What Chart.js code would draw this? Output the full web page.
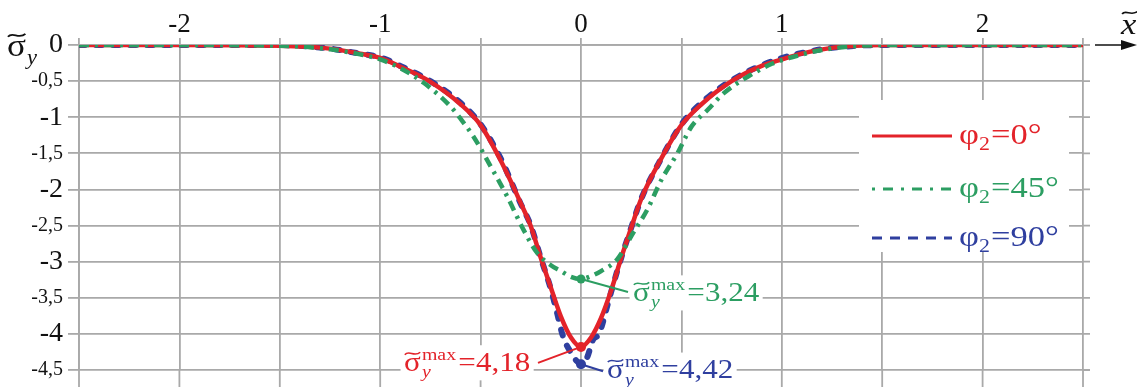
<!DOCTYPE html>
<html>
<head>
<meta charset="utf-8">
<script src="https://cdn.jsdelivr.net/npm/chart.js@4/dist/chart.umd.min.js"></script>
<style>
  html, body { margin: 0; padding: 0; background: #fff; }
</style>
</head>
<body>
<canvas id="chart" width="1137" height="387"></canvas>
<script>
// values
const xRed = [-2.5, -2, -1.5, -1.25, -1.1, -1, -0.9, -0.75, -0.6, -0.5, -0.4, -0.3, -0.25, -0.2, -0.15, -0.1, -0.05, 0,
              0.05, 0.1, 0.15, 0.2, 0.25, 0.3, 0.4, 0.5, 0.6, 0.75, 0.9, 1, 1.1, 1.25, 1.5, 2, 2.5];
const yRed = [0, 0, -0.01, -0.05, -0.12, -0.18, -0.3, -0.51, -0.82, -1.11, -1.6, -2.19, -2.51, -2.95, -3.36, -3.76, -4.05, -4.18,
              -4.05, -3.78, -3.4, -2.95, -2.53, -2.13, -1.57, -1.11, -0.82, -0.5, -0.29, -0.2, -0.12, -0.04, 0, 0, 0];

const xGreen = [-2.5, -2, -1.5, -1.25, -1.1, -1, -0.9, -0.78, -0.65, -0.6, -0.535, -0.45, -0.367, -0.286, -0.218, -0.15, -0.1, -0.05, 0,
                0.05, 0.1, 0.18, 0.26, 0.33, 0.4, 0.48, 0.55, 0.63, 0.71, 0.83, 0.95, 1.05, 1.2, 1.5, 2, 2.5];
const yGreen = [0, 0, -0.01, -0.06, -0.13, -0.2, -0.32, -0.53, -0.85, -1.02, -1.27, -1.68, -2.1, -2.56, -2.88, -3.05, -3.13, -3.21, -3.24,
                -3.2, -3.13, -2.97, -2.6, -2.28, -1.87, -1.5, -1.13, -0.9, -0.67, -0.44, -0.26, -0.17, -0.07, 0, 0, 0];

const xBlue = [-2.5, -2, -1.5, -1.25, -1.1, -1, -0.9, -0.75, -0.6, -0.5, -0.4, -0.3, -0.25, -0.2, -0.15, -0.12, -0.09, -0.05, -0.02, 0,
               0.03, 0.06, 0.09, 0.13, 0.15, 0.2, 0.25, 0.3, 0.4, 0.5, 0.6, 0.75, 0.9, 1, 1.1, 1.25, 1.5, 2, 2.5];
const yBlue = [0, 0, 0, -0.05, -0.12, -0.17, -0.29, -0.5, -0.8, -1.1, -1.57, -2.2, -2.5, -2.95, -3.38, -3.7, -4.03, -4.26, -4.38, -4.42,
               -4.33, -4.08, -4.0, -3.62, -3.42, -2.95, -2.53, -2.13, -1.57, -1.1, -0.8, -0.49, -0.28, -0.18, -0.11, -0.04, 0, 0, 0];

const seriesNames = ['0°', '45°', '90°'];
const peakX = [0, 0, 0];
const peakY = [-4.18, -3.24, -4.42];
const peakText = ['4,18', '3,24', '4,42'];

const RED = '#e3232a', GREEN = '#2c9e62', BLUE = '#2f3f9f';
const gridCol = '#a9a9a9';
const FONT = '"Liberation Serif", "Times New Roman", serif';
const SX = 1.15; // text in the picture is a bit wide

function serif(size, italic) {
  return (italic ? 'italic ' : '') + size + 'px ' + FONT;
}

function pts(xs, ys) {
  return xs.map((x, i) => ({ x: x, y: ys[i] }));
}

// sigma with tilde, subscript y and optional "max"; origin at baseline
function sigmaWidth(ctx, size, sup) {
  ctx.font = serif(size);
  const w = ctx.measureText('σ').width;
  ctx.font = serif(size * 0.64, true);
  let e = w + 1 + ctx.measureText('y').width;
  if (sup) {
    ctx.font = serif(size * 0.64);
    e = Math.max(e, w + 1 + ctx.measureText('max').width);
  }
  return e;
}
function drawSigma(ctx, size, sup) {
  ctx.font = serif(size);
  ctx.fillText('σ', 0, 0);
  const w = ctx.measureText('σ').width;
  const ty = -size * 0.64;
  ctx.lineWidth = Math.max(1.3, size * 0.055);
  ctx.beginPath();
  ctx.moveTo(w * 0.05, ty + size * 0.04);
  ctx.bezierCurveTo(w * 0.3, ty - size * 0.14, w * 0.62, ty + size * 0.14, w * 0.97, ty - size * 0.05);
  ctx.stroke();
  ctx.font = serif(size * 0.64, true);
  ctx.fillText('y', w + 1, size * 0.24);
  if (sup) {
    ctx.font = serif(size * 0.64);
    ctx.fillText('max', w + 1, -size * 0.42);
  }
  return sigmaWidth(ctx, size, sup);
}

const extras = {
  id: 'extras',
  beforeDatasetsDraw(chart) {
    const ctx = chart.ctx, a = chart.chartArea;
    const xs = chart.scales.x, ys = chart.scales.y;
    ctx.save();
    ctx.strokeStyle = gridCol;
    ctx.lineWidth = 1.8;
    ctx.beginPath();
    ys.ticks.forEach(t => {
      const py = ys.getPixelForValue(t.value);
      ctx.moveTo(a.right, py); ctx.lineTo(a.right + 7, py);
    });
    xs.ticks.forEach(t => {
      const px = xs.getPixelForValue(t.value);
      ctx.moveTo(px, a.bottom); ctx.lineTo(px, chart.height);
    });
    ctx.stroke();
    ctx.restore();
  },
  afterDatasetsDraw(chart) {
    const ctx = chart.ctx, a = chart.chartArea;
    const xs = chart.scales.x, ys = chart.scales.y;
    ctx.save();
    ctx.textBaseline = 'alphabetic';
    ctx.textAlign = 'left';

    // arrow of the x axis
    ctx.strokeStyle = '#111';
    ctx.fillStyle = '#111';
    ctx.lineWidth = 1.5;
    ctx.beginPath();
    ctx.moveTo(a.right + 12, a.top); ctx.lineTo(a.right + 42, a.top);
    ctx.stroke();
    ctx.beginPath();
    ctx.moveTo(a.right + 54, a.top);
    ctx.lineTo(a.right + 38, a.top - 5);
    ctx.lineTo(a.right + 38, a.top + 5);
    ctx.closePath();
    ctx.fill();

    // x~ label
    ctx.save();
    ctx.translate(1121, 34);
    ctx.scale(SX, 1);
    ctx.font = serif(30, true);
    ctx.fillText('x', 0, 0);
    ctx.lineWidth = 1.6;
    ctx.beginPath();
    ctx.moveTo(1, -20);
    ctx.bezierCurveTo(4, -25, 9, -17, 15, -23);
    ctx.stroke();
    ctx.restore();

    // sigma~y axis title
    ctx.save();
    ctx.translate(7, 56);
    ctx.scale(1.1, 1);
    drawSigma(ctx, 32, false);
    ctx.restore();

    // legend
    const legend = [
      { c: RED, dash: [], y: 136 },
      { c: GREEN, dash: [3, 8, 10, 8], y: 189 },
      { c: BLUE, dash: [10, 8], y: 238 }
    ];
    ctx.fillStyle = '#fff';
    ctx.fillRect(859, 100, 210, 152);
    legend.forEach((it, i) => {
      ctx.strokeStyle = it.c;
      ctx.lineWidth = 3;
      ctx.setLineDash(it.dash);
      ctx.beginPath();
      ctx.moveTo(872, it.y); ctx.lineTo(952, it.y);
      ctx.stroke();
      ctx.setLineDash([]);
      ctx.save();
      ctx.translate(959, it.y + 8);
      ctx.scale(SX, 1);
      ctx.fillStyle = it.c;
      ctx.font = serif(30);
      ctx.fillText('φ', 0, 0);
      let w = ctx.measureText('φ').width;
      ctx.font = serif(19);
      ctx.fillText('2', w, 6);
      w += ctx.measureText('2').width + 1;
      ctx.font = serif(30);
      ctx.fillText('=' + seriesNames[i], w, 0);
      ctx.restore();
    });

    // peak labels
    const cols = [RED, GREEN, BLUE];
    const place = [
      { tx: -177, ty: 24, lx: -43, ly: 16, r: 5 },
      { tx: 52, ty: 22, lx: 47, ly: 13, r: 4.5 },
      { tx: 26, ty: 14, lx: 22, ly: 7, r: 5 }
    ];
    peakY.forEach((v, i) => {
      const px = xs.getPixelForValue(peakX[i]);
      const py = ys.getPixelForValue(v);
      const p = place[i];
      const size = 27;
      const sw = sigmaWidth(ctx, size, true);
      ctx.font = serif(size);
      const txt = '=' + peakText[i];
      const tw = sw + 2 + ctx.measureText(txt).width;
      ctx.save();
      ctx.translate(px + p.tx, py + p.ty);
      ctx.scale(SX, 1);
      ctx.fillStyle = '#fff';
      ctx.fillRect(-3, -size * 0.95, tw + 6, size * 1.3);
      ctx.fillStyle = cols[i];
      ctx.strokeStyle = cols[i];
      drawSigma(ctx, size, true);
      ctx.font = serif(size);
      ctx.fillText(txt, sw + 2, 0);
      ctx.restore();

      ctx.strokeStyle = cols[i];
      ctx.fillStyle = cols[i];
      ctx.lineWidth = 2;
      ctx.beginPath();
      ctx.moveTo(px + p.lx, py + p.ly); ctx.lineTo(px, py);
      ctx.stroke();
      ctx.beginPath();
      ctx.arc(px, py, p.r, 0, Math.PI * 2);
      ctx.fill();
    });
    ctx.restore();
  }
};

new Chart(document.getElementById('chart'), {
  type: 'line',
  data: {
    datasets: [
      {
        label: 'φ2=' + seriesNames[1],
        data: pts(xGreen, yGreen),
        borderColor: GREEN,
        borderWidth: 4.5,
        borderDash: [10, 6, 3, 6],
        cubicInterpolationMode: 'monotone'
      },
      {
        label: 'φ2=' + seriesNames[0],
        data: pts(xRed, yRed),
        borderColor: RED,
        borderWidth: 4.5,
        cubicInterpolationMode: 'monotone'
      },
      {
        label: 'φ2=' + seriesNames[2],
        data: pts(xBlue, yBlue),
        borderColor: BLUE,
        borderWidth: 6,
        borderDash: [6, 11],
        borderCapStyle: 'round',
        cubicInterpolationMode: 'monotone'
      }
    ]
  },
  options: {
    responsive: false,
    animation: false,
    devicePixelRatio: 1,
    layout: { padding: { left: 0, right: 54, top: 0, bottom: 15 } },
    plugins: { legend: { display: false }, tooltip: { enabled: false } },
    elements: { point: { radius: 0 } },
    scales: {
      x: {
        type: 'linear',
        position: 'top',
        min: -2.5,
        max: 2.5,
        grid: { color: gridCol, lineWidth: 1.8, tickLength: 7 },
        border: { color: gridCol, width: 1.8 },
        ticks: {
          stepSize: 0.5,
          autoSkip: false,
          maxRotation: 0,
          padding: 0,
          color: '#111',
          font: { family: FONT, size: 27, lineHeight: 1 },
          callback: v => Number.isInteger(v) ? String(v) : ''
        },
        afterFit: s => { s.height = 45; }
      },
      y: {
        min: -4.5,
        max: 0,
        grid: { color: gridCol, lineWidth: 1.8, tickLength: 11 },
        border: { color: gridCol, width: 1.8 },
        ticks: {
          stepSize: 0.5,
          autoSkip: false,
          padding: 5,
          color: '#111',
          font: c => ({ family: FONT, size: (c.tick && !Number.isInteger(c.tick.value)) ? 20 : 28 }),
          callback: v => String(v).replace('.', ',')
        },
        afterFit: s => { s.width = 79; }
      }
    }
  },
  plugins: [extras]
});
</script>
</body>
</html>
